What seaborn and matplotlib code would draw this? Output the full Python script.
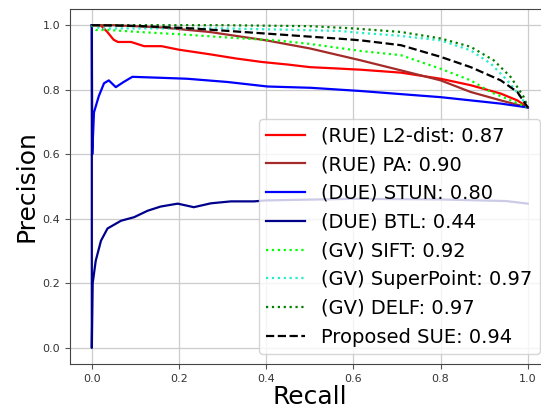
import numpy as np
import pandas as pd
import seaborn as sns
import matplotlib
matplotlib.use("Agg")
import matplotlib.pyplot as plt

# precision / recall points
l2_recall = [0.0, 0.02, 0.035, 0.05, 0.06, 0.09, 0.12, 0.16, 0.2, 0.27, 0.33, 0.39, 0.45, 0.5, 0.56, 0.617, 0.709, 0.8, 0.869, 0.938, 0.976, 1.0]
l2_prec = [1.0, 1.0, 0.98, 0.955, 0.948, 0.948, 0.935, 0.935, 0.924, 0.91, 0.897, 0.886, 0.878, 0.87, 0.866, 0.862, 0.853, 0.834, 0.814, 0.788, 0.767, 0.745]

pa_recall = [0.0, 0.05, 0.16, 0.27, 0.4, 0.5, 0.617, 0.709, 0.8, 0.869, 0.938, 1.0]
pa_prec = [1.0, 1.0, 0.993, 0.979, 0.953, 0.928, 0.891, 0.86, 0.829, 0.793, 0.767, 0.745]

stun_recall = [0.0, 0.001, 0.005, 0.016, 0.028, 0.039, 0.055, 0.073, 0.093, 0.158, 0.219, 0.311, 0.403, 0.502, 0.617, 0.732, 0.8, 0.938, 1.0]
stun_prec = [1.0, 0.6, 0.73, 0.78, 0.82, 0.829, 0.808, 0.824, 0.84, 0.837, 0.834, 0.824, 0.81, 0.806, 0.796, 0.784, 0.777, 0.757, 0.745]

btl_recall = [0.0, 0.0, 0.002, 0.009, 0.021, 0.036, 0.067, 0.097, 0.128, 0.158, 0.197, 0.234, 0.273, 0.319, 0.372, 0.4, 0.6, 0.8, 0.95, 1.0]
btl_prec = [1.0, 0.0, 0.2, 0.27, 0.332, 0.37, 0.394, 0.405, 0.425, 0.438, 0.447, 0.436, 0.448, 0.454, 0.454, 0.457, 0.462, 0.46, 0.455, 0.447]

sift_recall = [0.0, 0.01, 0.04, 0.12, 0.2, 0.31, 0.43, 0.5, 0.617, 0.709, 0.8, 0.869, 0.915, 0.961, 1.0]
sift_prec = [1.0, 0.985, 0.985, 0.978, 0.972, 0.962, 0.952, 0.942, 0.92, 0.907, 0.865, 0.829, 0.793, 0.767, 0.745]

sp_recall = [0.0, 0.02, 0.1, 0.3, 0.45, 0.57, 0.617, 0.7, 0.8, 0.869, 0.915, 0.953, 0.984, 1.0]
sp_prec = [1.0, 0.99, 0.99, 0.99, 0.986, 0.982, 0.976, 0.968, 0.953, 0.922, 0.881, 0.829, 0.777, 0.745]

delf_recall = [0.0, 0.3, 0.5, 0.6, 0.709, 0.8, 0.869, 0.922, 0.961, 0.991, 1.0]
delf_prec = [1.0, 1.0, 0.997, 0.99, 0.979, 0.959, 0.933, 0.891, 0.839, 0.777, 0.745]

sue_recall = [0.0, 0.1, 0.23, 0.4, 0.58, 0.617, 0.709, 0.8, 0.869, 0.938, 0.976, 1.0]
sue_prec = [1.0, 0.998, 0.99, 0.974, 0.957, 0.953, 0.938, 0.902, 0.87, 0.829, 0.793, 0.745]

curves = [
    ("(RUE) L2-dist: 0.87", l2_recall, l2_prec, "red", "-"),
    ("(RUE) PA: 0.90", pa_recall, pa_prec, "brown", "-"),
    ("(DUE) STUN: 0.80", stun_recall, stun_prec, "blue", "-"),
    ("(DUE) BTL: 0.44", btl_recall, btl_prec, "darkblue", "-"),
    ("(GV) SIFT: 0.92", sift_recall, sift_prec, "lime", ":"),
    ("(GV) SuperPoint: 0.97", sp_recall, sp_prec, "#22eec8", ":"),
    ("(GV) DELF: 0.97", delf_recall, delf_prec, "green", ":"),
    ("Proposed SUE: 0.94", sue_recall, sue_prec, "black", "--"),
]

fig = plt.figure(figsize=(5.41, 4.08), dpi=100)
ax = fig.add_axes([0.1294, 0.1078, 0.8865, 0.870])

for label, r, p, color, ls in curves:
    df = pd.DataFrame({"recall": r, "precision": p})
    sns.lineplot(data=df, x="recall", y="precision", ax=ax, color=color,
                 linestyle=ls, linewidth=1.6, estimator=None, sort=False, label=label)

ax.set_xlim(-0.05, 1.05)
ax.set_ylim(-0.05, 1.05)
ax.set_xticks(np.arange(0, 1.01, 0.2))
ax.set_yticks(np.arange(0, 1.01, 0.2))
ax.tick_params(labelsize=8, labelcolor="#333333", color="#555555")
for sp in ax.spines.values():
    sp.set_color("#444444")
ax.set_xlabel("Recall", fontsize=18, labelpad=1)
ax.set_ylabel("Precision", fontsize=18, labelpad=3)
ax.grid(True, color="#cccccc", linewidth=0.9)
ax.legend(loc="lower right", fontsize=14)

fig.savefig("out.png", dpi=100)
